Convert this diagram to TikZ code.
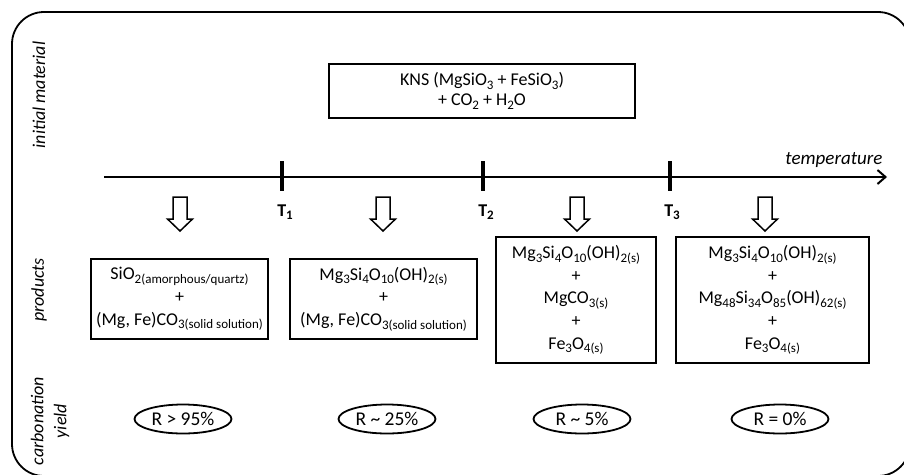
\documentclass[tikz,border=0pt]{standalone}
\usepackage{fontspec}
\setmainfont{Carlito}
\usetikzlibrary{arrows.meta,shapes.geometric}
\newcommand\sbs[1]{\raisebox{-3.5pt}{\fontsize{13}{14}\selectfont #1}}
\tikzset{
  frame/.style={draw, line width=1.8pt, rounded corners=32pt},
  kbox/.style={draw, line width=1.8pt, inner sep=0pt, align=center, font=\fontsize{18}{20}\selectfont},
  pbox/.style={draw, line width=1.8pt, inner sep=0pt, align=center, font=\fontsize{18}{22.6}\selectfont},
  rbox/.style={draw, ellipse, line width=1.8pt, inner sep=0pt, minimum width=97pt, minimum height=29pt, font=\fontsize{19.5}{20}\selectfont},
  rowlabel/.style={rotate=90, align=center, font=\fontsize{18}{23}\selectfont\itshape},
  tlabel/.style={font=\fontsize{18}{20}\selectfont\bfseries},
  tick/.style={line width=3.2pt},
  axis/.style={line width=2pt, -{Straight Barb[length=8pt,width=14pt]}},
  hollow/.pic={\draw[line width=1.5pt, line join=miter] (-7,0) -- (7,0) -- (7,22) -- (12.5,22) -- (0,34) -- (-12.5,22) -- (-7,22) -- cycle;}
}
\begin{document}
\begin{tikzpicture}[x=1pt,y=-1pt]
\clip (0,0) rectangle (904,474);
\path[frame] (12,12) rectangle (910,476);

% row labels
\node[rowlabel] (lab1) at (39,95) {initial material};
\node[rowlabel] (lab2) at (39,290) {products};
\node[rowlabel] (lab3) at (50,421) {carbonation\\yield};

% initial material
\node[kbox, minimum width=306pt, minimum height=54pt] (kns) at (482,91)
  {KNS (MgSiO\sbs{3} + FeSiO\sbs{3})\\+ CO\sbs{2} + H\sbs{2}O};

% temperature axis
\coordinate (ax0) at (104,177);
\coordinate (ax1) at (887,177);
\draw[axis] (ax0) -- (ax1);
\node[anchor=base east, font=\fontsize{19}{20}\selectfont\itshape] (temp) at (886,164) {temperature};

\coordinate (t1) at (282,177);
\coordinate (t2) at (483,177);
\coordinate (t3) at (670,177);
\foreach \t in {t1,t2,t3}{\draw[tick] ([yshift=16pt]\t) -- ([yshift=-14pt]\t);}
\node[tlabel] (T1) at (285,212) {T\sbs{1}};
\node[tlabel] (T2) at (486,212) {T\sbs{2}};
\node[tlabel] (T3) at (672,212) {T\sbs{3}};

% hollow arrows
\pic at (180,197) {hollow};
\pic at (383,197) {hollow};
\pic at (577,197) {hollow};
\pic at (765,197) {hollow};

% products
\node[pbox, minimum width=177pt, minimum height=80pt] (p1) at (179.5,299)
  {SiO\sbs{2(amorphous/quartz)}\\+\\(Mg, Fe)CO\sbs{3(solid solution)}};
\node[pbox, minimum width=187pt, minimum height=80pt] (p2) at (383.5,299)
  {Mg\sbs{3}Si\sbs{4}O\sbs{10}(OH)\sbs{2(s)}\\+\\(Mg, Fe)CO\sbs{3(solid solution)}};
\node[pbox, minimum width=160pt, minimum height=126pt] (p3) at (576,300)
  {Mg\sbs{3}Si\sbs{4}O\sbs{10}(OH)\sbs{2(s)}\\+\\MgCO\sbs{3(s)}\\+\\Fe\sbs{3}O\sbs{4(s)}};
\node[pbox, minimum width=193pt, minimum height=126pt] (p4) at (772.5,300)
  {Mg\sbs{3}Si\sbs{4}O\sbs{10}(OH)\sbs{2(s)}\\+\\Mg\sbs{48}Si\sbs{34}O\sbs{85}(OH)\sbs{62(s)}\\+\\Fe\sbs{3}O\sbs{4(s)}};

% yields
\node[rbox] (r1) at (183,419) {R > 95\%};
\node[rbox] (r2) at (387,419) {R \textasciitilde{} 25\%};
\node[rbox] (r3) at (582,419) {R \textasciitilde{} 5\%};
\node[rbox] (r4) at (780,419) {R = 0\%};
\end{tikzpicture}
\end{document}
